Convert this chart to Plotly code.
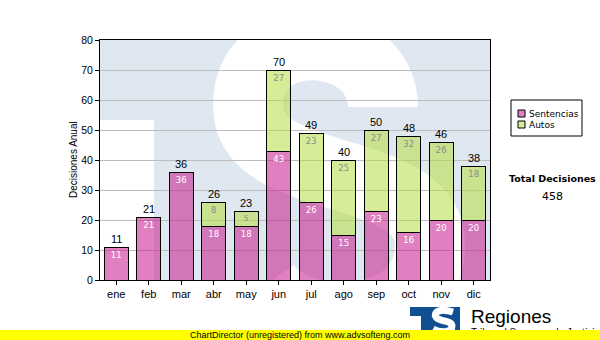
import plotly.graph_objects as go

# ---- data -------------------------------------------------------------
months = ["ene", "feb", "mar", "abr", "may", "jun",
          "jul", "ago", "sep", "oct", "nov", "dic"]
sentencias = [11, 21, 36, 18, 18, 43, 26, 15, 23, 16, 20, 20]
autos = [0, 0, 0, 8, 5, 27, 23, 25, 27, 32, 26, 18]
y_ticks = [0, 10, 20, 30, 40, 50, 60, 70, 80]
series_names = ["Sentencias", "Autos"]

totals = [s + a for s, a in zip(sentencias, autos)]
grand_total = sum(totals)

# ---- geometry of the page (pixels) -----------------------------------
FIG_W, FIG_H = 600, 340
L, T, W, H = 100, 40, 390, 240          # plot area
N = len(months)
Y_MAX = 80


def dx(p):   # page pixel -> x data units
    return (p - L) / (W / N) - 0.5


def dy(p):   # page pixel -> y data units
    return (T + H - p) / (H / Y_MAX)


def px(p):   # page pixel -> paper x
    return (p - L) / W


def py(p):   # page pixel -> paper y
    return (T + H - p) / H


def pt(a, b):
    return f"{dx(a):.4f},{dy(b):.4f}"


PINK = "rgba(199,24,140,0.55)"
GREEN = "rgba(180,220,64,0.55)"
WM_BLUE = "#dfe8f1"
LOGO_BLUE = "#0f4f92"

xs = list(range(N))
fig = go.Figure()

fig.add_bar(
    x=xs, y=sentencias, name=series_names[0],
    marker=dict(color=PINK, line=dict(color="black", width=1)),
    text=[str(v) if v else "" for v in sentencias],
    textposition="inside", insidetextanchor="end", textangle=0,
    textfont=dict(family="DejaVu Sans", size=8.5, color="white"),
    width=0.73, showlegend=False, hoverinfo="skip",
)
fig.add_bar(
    x=xs, y=autos, name=series_names[1],
    marker=dict(color=GREEN, line=dict(color="black", width=1)),
    text=[str(v) if v else "" for v in autos],
    textposition="inside", insidetextanchor="end", textangle=0,
    textfont=dict(family="DejaVu Sans", size=8.5, color="#8c8c8c"),
    width=0.73, showlegend=False, hoverinfo="skip",
)

annotations = []
# stack totals above each bar
for i, t in enumerate(totals):
    annotations.append(dict(
        x=i, y=t, xref="x", yref="y", text=str(t), showarrow=False,
        yanchor="bottom", font=dict(family="Liberation Sans, Arial", size=11, color="black"),
        yshift=0,
    ))

# y axis title
annotations.append(dict(
    x=px(73), y=0.5, xref="paper", yref="paper", text="Decisiones Anual",
    textangle=-90, showarrow=False, xanchor="center", yanchor="middle",
    font=dict(family="Liberation Sans, Arial", size=10, color="black"),
))

# legend labels
for name, yc in zip(series_names, [113.5, 124.5]):
    annotations.append(dict(
        x=px(527), y=py(yc), xref="paper", yref="paper", text=name,
        showarrow=False, xanchor="left", yanchor="middle",
        font=dict(family="DejaVu Sans", size=9, color="black"),
    ))

# grand total block
annotations.append(dict(
    x=px(552), y=py(178.5), xref="paper", yref="paper", text="<b>Total Decisiones</b>",
    showarrow=False, xanchor="center", yanchor="middle",
    font=dict(family="DejaVu Sans", size=9.5, color="black"),
))
annotations.append(dict(
    x=px(552), y=py(196.5), xref="paper", yref="paper", text=str(grand_total),
    showarrow=False, xanchor="center", yanchor="middle",
    font=dict(family="DejaVu Sans", size=11, color="black"),
))

# logo caption
annotations.append(dict(
    x=px(469), y=py(316), xref="paper", yref="paper", text="Regiones",
    showarrow=False, xanchor="left", yanchor="middle",
    font=dict(family="Liberation Sans, Arial", size=19, color="black"),
))
annotations.append(dict(
    x=px(469), y=py(332), xref="paper", yref="paper", text="Tribunal Supremo de Justicia",
    showarrow=False, xanchor="left", yanchor="middle",
    font=dict(family="Liberation Sans, Arial", size=10, color="black"),
))

# footer strip (drawn last so it sits on top)
annotations.append(dict(
    x=px(300), y=py(335), xref="paper", yref="paper",
    text="ChartDirector (unregistered) from www.advsofteng.com",
    showarrow=False, xanchor="center", yanchor="middle",
    width=FIG_W, height=10, bgcolor="#ffff00", borderpad=0, borderwidth=0,
    font=dict(family="Liberation Sans, Arial", size=9, color="black"),
))

shapes = []
# watermark inside the plot area: light blue square with white cut-outs
shapes.append(dict(type="rect", xref="x", yref="y", x0=dx(L), x1=dx(L + 60),
                   y0=dy(120), y1=dy(T + H + 5), fillcolor="white",
                   line=dict(width=0), layer="below"))
shapes[-1]["x1"] = dx(154)
s_path = (f"M {pt(383, 107)} C {pt(383, 30)} {pt(248, 20)} {pt(248, 105)} "
          f"C {pt(248, 190)} {pt(430, 160)} {pt(430, 245)} "
          f"C {pt(430, 330)} {pt(300, 335)} {pt(265, 285)}")
shapes.append(dict(type="path", xref="x", yref="y", path=s_path,
                   line=dict(color="white", width=70),
                   fillcolor="rgba(0,0,0,0)", layer="below"))

# legend box and swatches
shapes.append(dict(type="rect", xref="paper", yref="paper",
                   x0=px(511), x1=px(582), y0=py(100), y1=py(136),
                   line=dict(color="black", width=1), fillcolor="white"))
for col, y0 in zip([PINK, GREEN], [110, 121]):
    shapes.append(dict(type="rect", xref="paper", yref="paper",
                       x0=px(518), x1=px(525), y0=py(y0), y1=py(y0 + 7),
                       line=dict(color="black", width=1), fillcolor=col))

# small logo at the bottom
shapes.append(dict(type="rect", xref="paper", yref="paper",
                   x0=px(410), x1=px(460), y0=py(307), y1=py(336),
                   line=dict(width=0), fillcolor=LOGO_BLUE))
shapes.append(dict(type="rect", xref="paper", yref="paper",
                   x0=px(410), x1=px(421), y0=py(316), y1=py(336),
                   line=dict(width=0), fillcolor="white"))


def ppt(a, b):
    return f"{px(a):.4f},{py(b):.4f}"


logo_s = (f"M {ppt(453, 312)} C {ppt(440, 308)} {ppt(433, 312)} {ppt(436, 317)} "
          f"C {ppt(439, 322)} {ppt(452, 320)} {ppt(452, 326)} "
          f"C {ppt(452, 333)} {ppt(440, 333)} {ppt(433, 329)}")
shapes.append(dict(type="path", xref="paper", yref="paper", path=logo_s,
                   line=dict(color="white", width=7), fillcolor="rgba(0,0,0,0)"))

fig.update_layout(
    width=FIG_W, height=FIG_H,
    margin=dict(l=L, r=FIG_W - L - W, t=T, b=FIG_H - T - H, pad=0),
    paper_bgcolor="white", plot_bgcolor=WM_BLUE,
    barmode="stack", bargap=0.27,
    showlegend=False,
    annotations=annotations, shapes=shapes,
    font=dict(family="Liberation Sans, Arial", size=11, color="black"),
)
fig.update_xaxes(
    range=[-0.5, N - 0.5], tickvals=xs, ticktext=months,
    ticks="outside", ticklen=4, tickcolor="black", tickwidth=1,
    showline=True, linecolor="black", linewidth=1, mirror=True,
    showgrid=False, zeroline=False,
    tickfont=dict(family="Liberation Sans, Arial", size=11, color="black"),
)
fig.update_yaxes(
    range=[0, Y_MAX], tickvals=y_ticks,
    ticks="outside", ticklen=4, tickcolor="black", tickwidth=1,
    showline=True, linecolor="black", linewidth=1, mirror=True,
    showgrid=True, gridcolor="#bdbdbd", gridwidth=1, zeroline=False,
    tickfont=dict(family="Liberation Sans, Arial", size=10.5, color="black"),
)

fig.write_html("out.html")
